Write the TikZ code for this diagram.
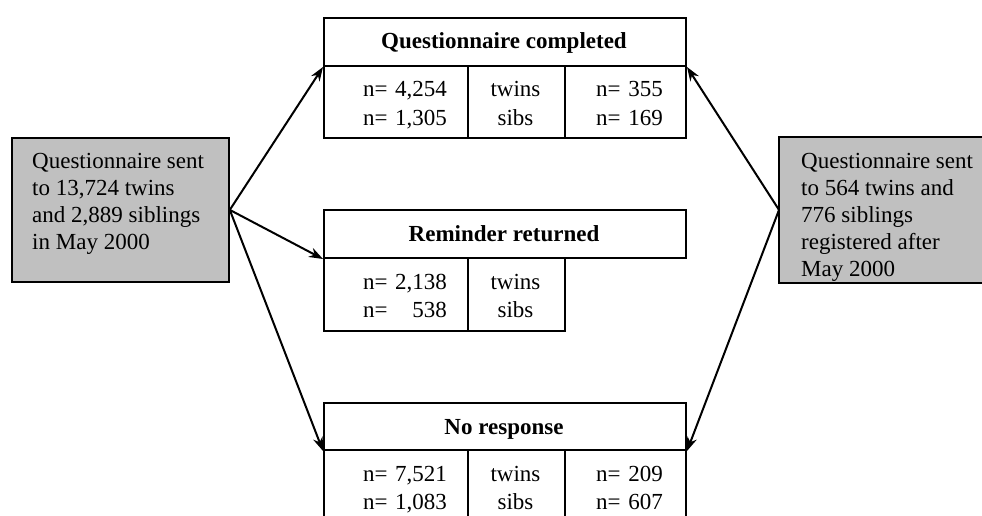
\documentclass[tikz,border=0pt]{standalone}
\usepackage{fontspec}
\setmainfont{Liberation Serif}
\usetikzlibrary{arrows.meta}
\begin{document}
\begin{tikzpicture}[x=1pt,y=-1pt,
  cell/.style={draw=black, line width=2pt, rectangle, inner sep=0pt, anchor=north west},
  greybox/.style={draw=black, line width=1.8pt, fill=grey, rectangle, inner sep=0pt, anchor=north west},
  txt/.style={inner sep=0pt, font=\fontsize{23}{27}\selectfont},
  hd/.style={txt, anchor=base, font=\fontsize{23}{27}\selectfont\bfseries},
  nl/.style={txt, anchor=base west},
  nr/.style={txt, anchor=base east},
  nc/.style={txt, anchor=base},
  arr/.style={line width=2pt, -{Stealth[length=14pt,width=10pt]}}
]
\definecolor{grey}{HTML}{C0C0C0}
\useasboundingbox (0,0) rectangle (982,516);

% left grey box
\node[greybox, minimum width=217pt, minimum height=144pt] (ls) at (11,137) {};
\node[txt, anchor=north west, align=left] (lst) at (32,153) {Questionnaire sent\\to 13,724 twins\\and 2,889 siblings\\in May 2000};

% right grey box
\node[greybox, draw=none, minimum width=215pt, minimum height=144pt] (rs) at (779,137) {};
\begin{scope}
\clip (779,137) rectangle (995,281);
\node[txt, anchor=north west, align=left] (rst) at (801,153) {Questionnaire sent\\to 564 twins and\\776 siblings\\registered after\\May 2000};
\end{scope}
\draw[line width=1.8pt] (rs.north east) -- (rs.north west) -- (rs.south west) -- (rs.south east);

% Questionnaire completed
\node[cell, minimum width=362pt, minimum height=48pt] (qh) at (323,17) {};
\node[cell, minimum width=144pt, minimum height=72pt] (q1) at (323,65) {};
\node[cell, minimum width=97pt, minimum height=72pt] (q2) at (467,65) {};
\node[cell, minimum width=121pt, minimum height=72pt] (q3) at (564,65) {};
\node[hd] (qht) at (504,49) {Questionnaire completed};
\node[nl] (qa1) at (363,97) {n=};
\node[nr] (qb1) at (447,97) {4,254};
\node[nl] (qa2) at (363,125) {n=};
\node[nr] (qb2) at (447,125) {1,305};
\node[nc] (qc1) at (515.5,97) {twins};
\node[nc] (qc2) at (515.5,125) {sibs};
\node[nl] (qd1) at (596,97) {n=};
\node[nr] (qe1) at (663,97) {355};
\node[nl] (qd2) at (596,125) {n=};
\node[nr] (qe2) at (663,125) {169};

% Reminder returned
\node[cell, minimum width=362pt, minimum height=48pt] (rh) at (323,209) {};
\node[cell, minimum width=144pt, minimum height=73pt] (r1) at (323,257) {};
\node[cell, minimum width=97pt, minimum height=73pt] (r2) at (467,257) {};
\node[hd] (rht) at (504,241) {Reminder returned};
\node[nl] (ra1) at (363,289) {n=};
\node[nr] (rb1) at (447,289) {2,138};
\node[nl] (ra2) at (363,317) {n=};
\node[nr] (rb2) at (447,317) {538};
\node[nc] (rc1) at (515.5,289) {twins};
\node[nc] (rc2) at (515.5,317) {sibs};

% No response
\node[cell, minimum width=362pt, minimum height=47pt] (nh) at (323,402) {};
\node[cell, minimum width=144pt, minimum height=72pt] (n1) at (323,449) {};
\node[cell, minimum width=97pt, minimum height=72pt] (n2) at (467,449) {};
\node[cell, minimum width=121pt, minimum height=72pt] (n3) at (564,449) {};
\node[hd] (nht) at (504,434) {No response};
\node[nl] (na1) at (363,481) {n=};
\node[nr] (nb1) at (447,481) {7,521};
\node[nl] (na2) at (363,509) {n=};
\node[nr] (nb2) at (447,509) {1,083};
\node[nc] (nc1) at (515.5,481) {twins};
\node[nc] (nc2) at (515.5,509) {sibs};
\node[nl] (nd1) at (596,481) {n=};
\node[nr] (ne1) at (663,481) {209};
\node[nl] (nd2) at (596,509) {n=};
\node[nr] (ne2) at (663,509) {607};

% arrows
\draw[arr] (ls.east) -- (qh.south west);
\draw[arr] (ls.east) -- (rh.south west);
\draw[arr] (ls.east) -- (nh.south west);
\draw[arr] (rs.west) -- (qh.south east);
\draw[arr] (rs.west) -- (nh.south east);
\end{tikzpicture}
\end{document}
